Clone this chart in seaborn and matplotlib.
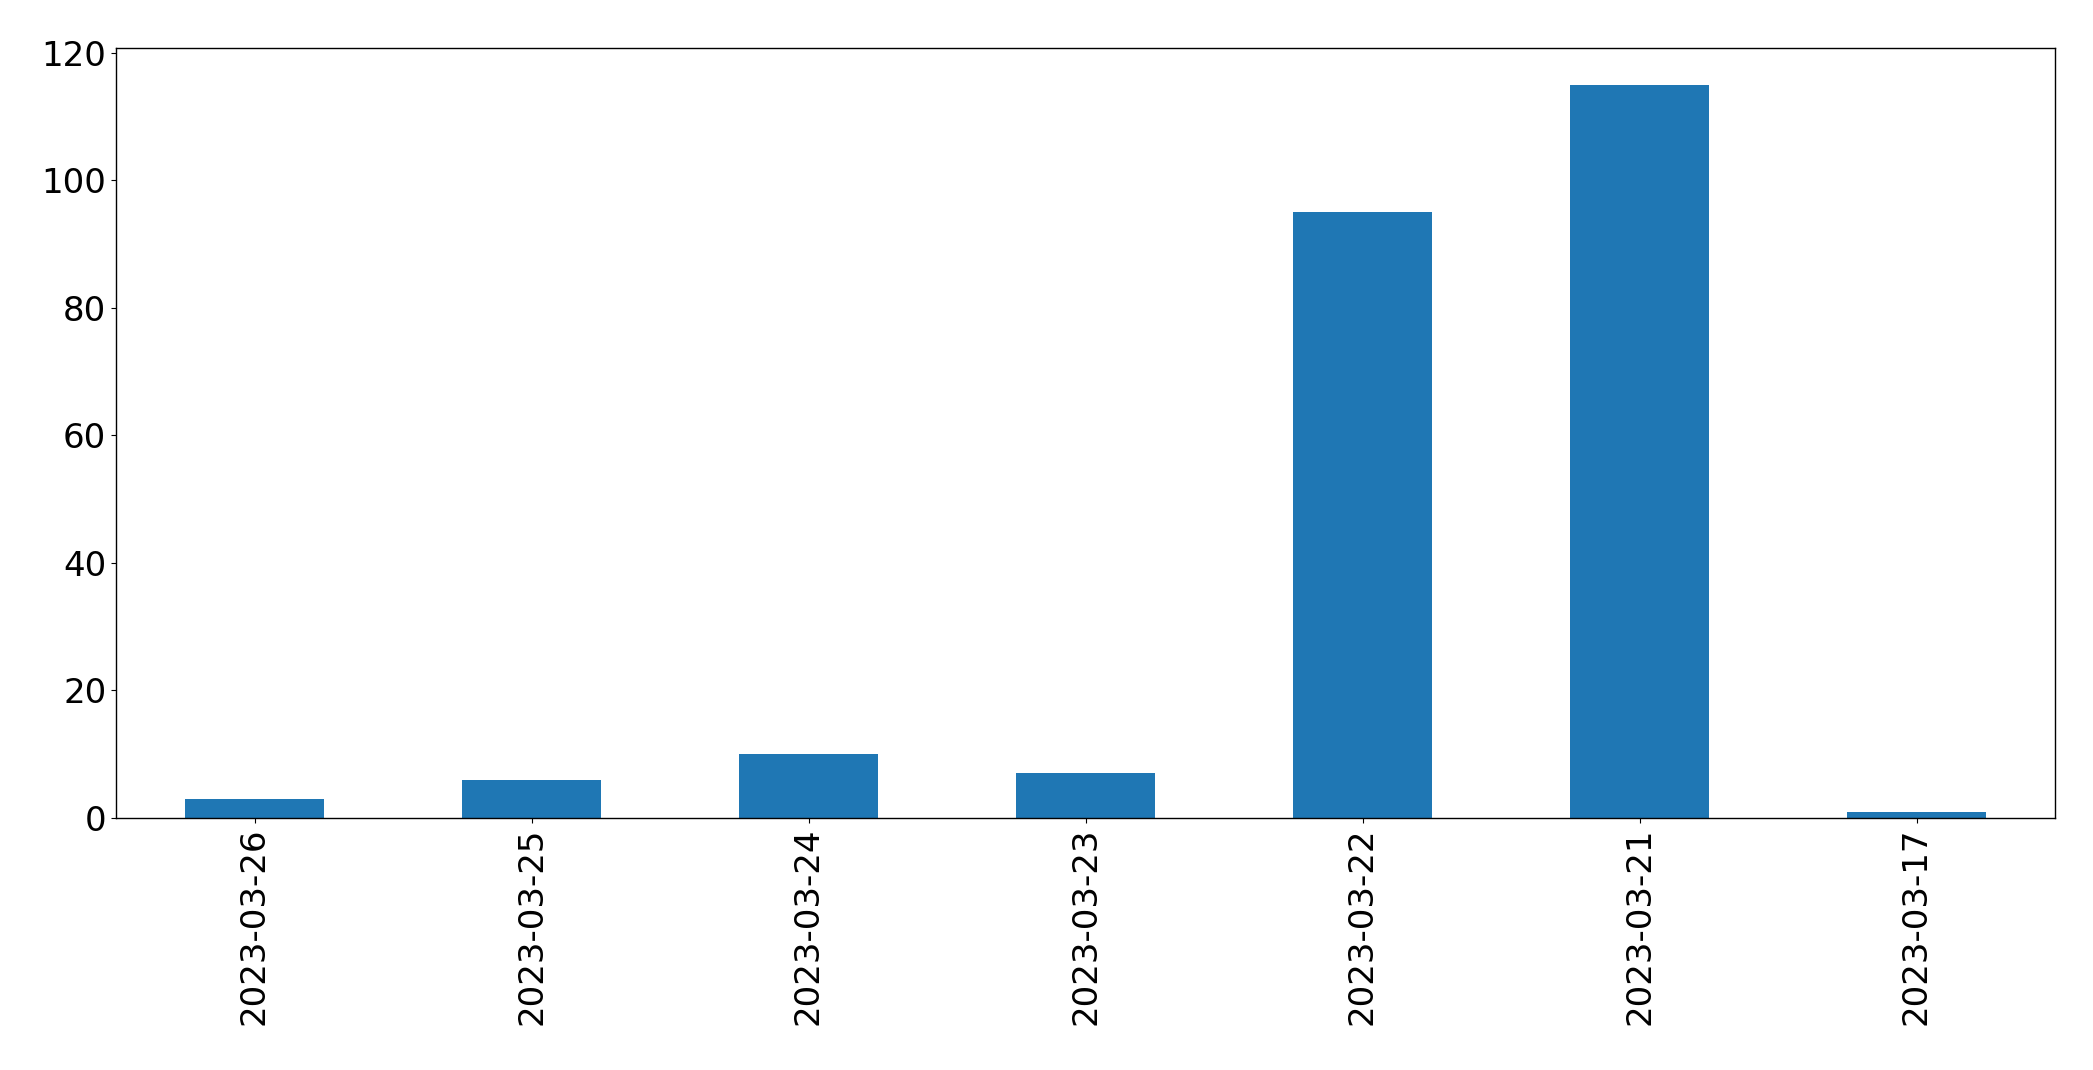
import matplotlib
matplotlib.use("Agg")
import matplotlib.pyplot as plt
import seaborn as sns
import pandas as pd

dates = ["2023-03-26", "2023-03-25", "2023-03-24", "2023-03-23",
         "2023-03-22", "2023-03-21", "2023-03-17"]
counts = [3, 6, 10, 7, 95, 115, 1]

df = pd.DataFrame({"date": dates, "count": counts})

fig, ax = plt.subplots(figsize=(20.93, 10.70), dpi=100)
fig.subplots_adjust(left=116 / 2093, right=2055 / 2093,
                    top=1 - 48 / 1070, bottom=1 - 818 / 1070)

sns.barplot(data=df, x="date", y="count", color="#1f77b4", saturation=1,
            width=0.5, ax=ax, order=dates, linewidth=0)
ax.set_xlim(-0.5, len(dates) - 0.5)
ax.set_ylim(0, max(counts) * 1.05)
ax.set_xlabel("")
ax.set_ylabel("")
ax.tick_params(axis="x", labelrotation=90, labelsize=24.5, color="black")
ax.tick_params(axis="y", labelsize=24.5, color="black")
for s in ax.spines.values():
    s.set_visible(True)
    s.set_color("black")
    s.set_linewidth(1.0)

fig.savefig("out.png", dpi=100)
